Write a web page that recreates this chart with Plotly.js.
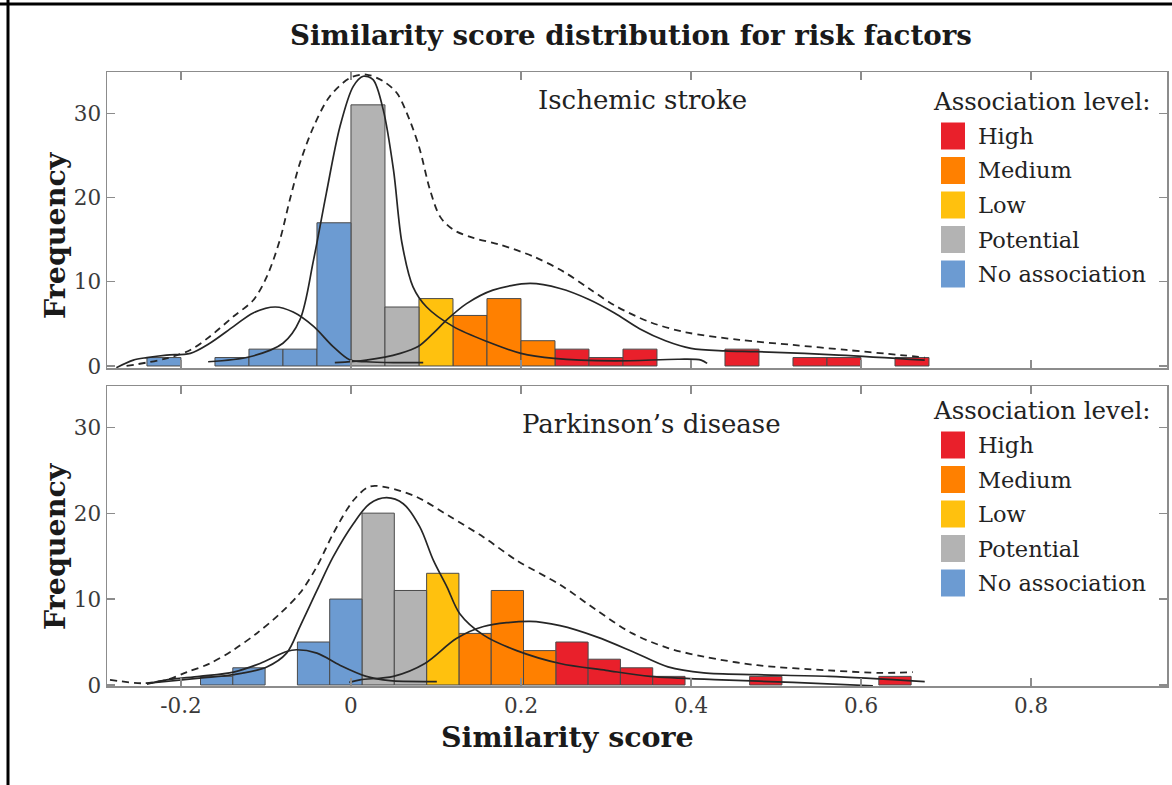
<!DOCTYPE html>
<html><head><meta charset="utf-8">
<script src="https://cdn.plot.ly/plotly-3.0.1.min.js"></script>
<style>html,body{margin:0;padding:0;background:#fff;}</style>
</head><body>
<div id="chart" style="width:1172px;height:785px;"></div>
<script>
// ---------- DATA ----------
const levels = ['High','Medium','Low','Potential','No association'];
const levelColors = ['#E9202B','#FF8000','#FFC10E','#B3B3B3','#6C9BD2'];

// Ischemic stroke (bin width 0.04)
const isBinWidth = 0.04;
const isHighX = [0.26,0.30,0.34,0.46,0.54,0.58,0.66];
const isHighY = [2,1,2,2,1,1,1];
const isMedX = [0.14,0.18,0.22];
const isMedY = [6,8,3];
const isLowX = [0.10];
const isLowY = [8];
const isPotX = [0.02,0.06];
const isPotY = [31,7];
const isNoX = [-0.22,-0.14,-0.10,-0.06,-0.02];
const isNoY = [1,1,2,2,17];

// Parkinson's disease (bin width 0.038)
const pdBinWidth = 0.038;
const pdHighX = [0.260,0.298,0.336,0.374,0.488,0.640];
const pdHighY = [5,3,2,1,1,1];
const pdMedX = [0.146,0.184,0.222];
const pdMedY = [6,11,4];
const pdLowX = [0.108];
const pdLowY = [13];
const pdPotX = [0.032,0.070];
const pdPotY = [20,11];
const pdNoX = [-0.158,-0.120,-0.044,-0.006];
const pdNoY = [1,2,5,10];

// Density curves, Ischemic stroke
const isAllX = [-0.264,-0.217,-0.189,-0.166,-0.138,-0.115,-0.099,-0.0835,-0.072,-0.060,-0.044,-0.025,-0.001,0.018,0.038,0.054,0.069,0.081,0.093,0.105,0.120,0.144,0.175,0.2145,0.250,0.280,0.310,0.352,0.394,0.457,0.520,0.583,0.646,0.675];
const isAllY = [0,0.9,1.9,3.5,5.9,7.8,10.6,15.0,19.7,24.1,28.4,32.0,34.2,34.6,33.8,32.4,29.2,25.7,20.9,17.7,16.2,15.2,14.4,13.0,11.2,9.2,7.2,5.2,4.0,3.1,2.5,1.9,1.3,1.0];
const isNoCurveX = [-0.276,-0.256,-0.240,-0.217,-0.189,-0.166,-0.138,-0.115,-0.089,-0.068,-0.044,-0.021,-0.001,0.018,0.050,0.085];
const isNoCurveY = [-0.2,0.7,1.0,1.3,1.5,2.7,4.7,6.3,7.0,6.4,4.7,2.3,0.7,0.5,0.4,0.4];
const isPotCurveX = [-0.168,-0.119,-0.080,-0.060,-0.044,-0.029,-0.013,0.0027,0.0145,0.026,0.038,0.050,0.060,0.073,0.089,0.120,0.160,0.200,0.239,0.310,0.385,0.412,0.419];
const isPotCurveY = [0.5,1.1,2.7,5.5,12.6,20.5,28.4,33.2,34.4,34.0,30.4,23.3,14.6,9.4,7.0,4.7,2.9,1.5,0.9,0.6,0.8,0.7,0.3];
const isHiCurveX = [-0.019,0.018,0.058,0.079,0.097,0.113,0.136,0.167,0.2106,0.246,0.280,0.310,0.340,0.370,0.400,0.440,0.478,0.574,0.675];
const isHiCurveY = [0.4,0.7,1.5,2.3,3.9,5.5,7.4,9.0,9.8,9.2,7.9,6.3,4.4,3.0,2.1,1.8,1.7,1.3,0.7];

// Density curves, Parkinson's disease
const pdAllX = [-0.2835,-0.244,-0.217,-0.193,-0.166,-0.138,-0.111,-0.0835,-0.060,-0.040,-0.021,0.003,0.022,0.042,0.077,0.1165,0.156,0.195,0.247,0.289,0.331,0.373,0.415,0.478,0.562,0.625,0.661];
const pdAllY = [0.6,0.2,0.6,1.5,2.5,4.1,6.0,8.3,10.7,13.8,17.6,21.5,23.1,23.0,21.9,19.6,17.2,14.5,11.6,8.7,6.0,4.3,3.3,2.3,1.7,1.4,1.5];
const pdNoCurveX = [-0.240,-0.217,-0.178,-0.138,-0.107,-0.0757,-0.064,-0.040,-0.013,0.018,0.046,0.101];
const pdNoCurveY = [0.1,0.6,1.0,1.5,2.5,3.9,4.1,3.7,2.3,1.0,0.5,0.4];
const pdPotCurveX = [-0.2385,-0.178,-0.138,-0.099,-0.0757,-0.060,-0.040,-0.021,0.003,0.022,0.042,0.0615,0.081,0.097,0.113,0.128,0.156,0.195,0.246,0.300,0.352,0.436,0.520,0.614];
const pdPotCurveY = [0.2,0.8,1.2,2.1,3.7,6.8,11.0,14.9,18.8,21.1,21.8,21.1,18.4,14.5,11.4,8.3,5.8,4.0,2.5,1.7,1.0,0.6,0.3,-0.1];
const pdHiCurveX = [-0.002,0.0106,0.05,0.087,0.124,0.156,0.2106,0.246,0.289,0.331,0.373,0.415,0.478,0.562,0.675];
const pdHiCurveY = [0.3,0.6,1.0,2.5,5.4,6.8,7.4,6.9,5.6,3.9,2.1,1.4,1.2,1.0,0.4];

const xTicks = [-0.2,0,0.2,0.4,0.6,0.8];
const xTickText = ['-0.2','0','0.2','0.4','0.6','0.8'];
const yTicks = [0,10,20,30];
const yTickText = ['0','10','20','30'];

// ---------- BUILD ----------
const SERIF = 'DejaVu Serif, Liberation Serif, serif';
const traces = [];
function addBars(xs, ys, w, color, xa, ya, name){
  traces.push({type:'bar', x:xs, y:ys, width:w, name:name, xaxis:xa, yaxis:ya,
    marker:{color:color, line:{color:'#4a4a4a', width:1}}, showlegend:false, hoverinfo:'x+y'});
}
const isSets = [[isHighX,isHighY],[isMedX,isMedY],[isLowX,isLowY],[isPotX,isPotY],[isNoX,isNoY]];
const pdSets = [[pdHighX,pdHighY],[pdMedX,pdMedY],[pdLowX,pdLowY],[pdPotX,pdPotY],[pdNoX,pdNoY]];
isSets.forEach((s,i)=>addBars(s[0], s[1], isBinWidth, levelColors[i], 'x2', 'y2', levels[i]));
pdSets.forEach((s,i)=>addBars(s[0], s[1], pdBinWidth, levelColors[i], 'x', 'y', levels[i]));

function addCurve(xs, ys, xa, ya, dashed){
  traces.push({type:'scatter', mode:'lines', x:xs, y:ys, xaxis:xa, yaxis:ya, showlegend:false,
    hoverinfo:'skip',
    line:{color:'#262626', width:dashed?1.8:1.7, shape:'spline', smoothing:0.9, dash:dashed?'7px,5px':'solid'}});
}
addCurve(isAllX, isAllY, 'x2','y2', true);
addCurve(isNoCurveX, isNoCurveY, 'x2','y2', false);
addCurve(isPotCurveX, isPotCurveY, 'x2','y2', false);
addCurve(isHiCurveX, isHiCurveY, 'x2','y2', false);
addCurve(pdAllX, pdAllY, 'x','y', true);
addCurve(pdNoCurveX, pdNoCurveY, 'x','y', false);
addCurve(pdPotCurveX, pdPotCurveY, 'x','y', false);
addCurve(pdHiCurveX, pdHiCurveY, 'x','y', false);

// layout helpers (pixel -> paper)
const ML=107, MR=5, MT=72, MB=99, W=1172, H=785;
const PW = W-ML-MR, PH = H-MT-MB;
const XP = px => (px-ML)/PW;
const YP = py => (H-MB-py)/PH;

const axisStyle = {
  showline:true, linecolor:'#8c8c8c', linewidth:1.5, mirror:'ticks',
  ticks:'inside', ticklen:8, tickwidth:1.3, tickcolor:'#8c8c8c',
  showgrid:false, zeroline:false,
  tickfont:{family:SERIF, size:21.5, color:'#3a3a3a'}
};

const shapes = [
  {type:'line', xref:'paper', yref:'paper', x0:XP(8), x1:XP(8), y0:YP(0), y1:YP(785), line:{color:'#000', width:3}},
  {type:'line', xref:'paper', yref:'paper', x0:XP(0), x1:XP(1172), y0:YP(4), y1:YP(4), line:{color:'#000', width:3}}
];
const titleFont = {family:SERIF, size:28.5, color:'#1a1a1a'};
const annotations = [
  {text:'Ischemic stroke', xref:'paper', yref:'paper', x:XP(642), y:YP(100), showarrow:false,
   xanchor:'center', yanchor:'middle', font:{family:SERIF, size:26, color:'#222'}},
  {text:'Parkinson\u2019s disease', xref:'paper', yref:'paper', x:XP(651), y:YP(424), showarrow:false,
   xanchor:'center', yanchor:'middle', font:{family:SERIF, size:26, color:'#222'}},
  {text:'<b>Similarity score</b>', xref:'paper', yref:'paper', x:XP(567), y:YP(737), showarrow:false,
   xanchor:'center', yanchor:'middle', font:titleFont},
  {text:'<b>Frequency</b>', xref:'paper', yref:'paper', x:XP(55), y:YP(235), showarrow:false, textangle:-90,
   xanchor:'center', yanchor:'middle', font:titleFont},
  {text:'<b>Frequency</b>', xref:'paper', yref:'paper', x:XP(55), y:YP(546), showarrow:false, textangle:-90,
   xanchor:'center', yanchor:'middle', font:titleFont}
];
// custom legends, one per panel
[101, 410].forEach(ty=>{
  annotations.push({text:'Association level:', xref:'paper', yref:'paper', x:XP(931), y:YP(ty),
    showarrow:false, xanchor:'left', yanchor:'middle', font:{family:SERIF, size:24.5, color:'#222'}});
  levels.forEach((lv,i)=>{
    const cy = ty + 35 + i*34.5;
    shapes.push({type:'rect', xref:'paper', yref:'paper', x0:XP(941), x1:XP(965), y0:YP(cy-13.5), y1:YP(cy+13.5),
      fillcolor:levelColors[i], line:{width:0}});
    annotations.push({text:lv, xref:'paper', yref:'paper', x:XP(976), y:YP(cy), showarrow:false,
      xanchor:'left', yanchor:'middle', font:{family:SERIF, size:22.5, color:'#222'}});
  });
});

const layout = {
  width:W, height:H, margin:{l:ML, r:MR, t:MT, b:MB}, paper_bgcolor:'#fff', plot_bgcolor:'#fff',
  barmode:'overlay', showlegend:false,
  title:{text:'<b>Similarity score distribution for risk factors</b>', xref:'paper', x:XP(631), xanchor:'center',
    yref:'container', y:1-35/H, yanchor:'middle', font:{family:SERIF, size:27.7, color:'#1a1a1a'}},
  xaxis:Object.assign({}, axisStyle, {domain:[0,1], anchor:'y', range:[-0.287,0.96], tickvals:xTicks, ticktext:xTickText}),
  xaxis2:Object.assign({}, axisStyle, {domain:[0,1], anchor:'y2', matches:'x', range:[-0.287,0.96], tickvals:xTicks, ticktext:xTickText, showticklabels:false}),
  yaxis:Object.assign({}, axisStyle, {domain:[YP(686), YP(386)], anchor:'x', range:[-0.12,34.8], tickvals:yTicks, ticktext:yTickText}),
  yaxis2:Object.assign({}, axisStyle, {domain:[YP(368), YP(72)], anchor:'x2', range:[-0.24,34.9], tickvals:yTicks, ticktext:yTickText}),
  shapes:shapes, annotations:annotations
};
Plotly.newPlot('chart', traces, layout, {displayModeBar:false, staticPlot:true});
</script>
</body></html>
